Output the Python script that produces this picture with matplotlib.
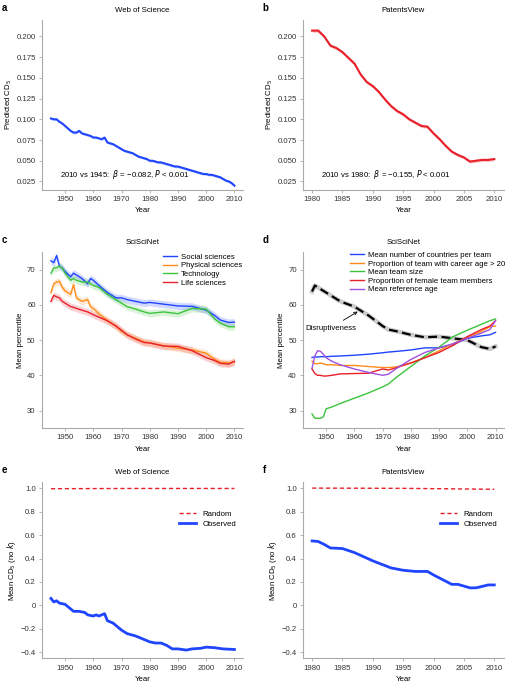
import numpy as np
import matplotlib
matplotlib.use('Agg')
import matplotlib.pyplot as plt

plt.rcParams['font.family'] = ['Liberation Sans', 'DejaVu Sans']
plt.rcParams['font.size'] = 6

# panel a: Web of Science predicted CD5, 1945-2010
a_years = np.arange(1945, 2011)
a_vals = [0.101, 0.100, 0.100, 0.097, 0.095, 0.092, 0.089, 0.086, 0.084, 0.084,
          0.086, 0.083, 0.082, 0.081, 0.080, 0.078, 0.078, 0.077, 0.076, 0.078,
          0.072, 0.071, 0.070, 0.068, 0.066, 0.064, 0.062, 0.061, 0.060, 0.059,
          0.057, 0.055, 0.054, 0.053, 0.052, 0.050, 0.050, 0.049, 0.048, 0.048,
          0.047, 0.046, 0.045, 0.044, 0.043, 0.043, 0.042, 0.041, 0.040, 0.039,
          0.038, 0.037, 0.036, 0.035, 0.034, 0.034, 0.033, 0.033, 0.032, 0.031,
          0.030, 0.028, 0.026, 0.025, 0.023, 0.020]

# panel b: PatentsView predicted CD5, 1980-2010
b_years = np.arange(1980, 2011)
b_vals = [0.207, 0.207, 0.200, 0.189, 0.186, 0.181, 0.174, 0.167, 0.154, 0.145,
          0.140, 0.133, 0.124, 0.116, 0.110, 0.106, 0.100, 0.096, 0.092, 0.091,
          0.083, 0.076, 0.068, 0.061, 0.057, 0.054, 0.049, 0.050, 0.051, 0.051, 0.052]

# panel c: SciSciNet by field
c_years = [1945, 1946, 1947, 1948, 1949, 1950, 1952, 1953, 1954, 1956, 1958, 1959, 1960,
           1962, 1965, 1968, 1970, 1972, 1975, 1978, 1980, 1985, 1990, 1995, 2000,
           2003, 2005, 2008, 2010]
c_social = [72.5, 72, 74, 71, 70.5, 69.5, 68, 69, 68.5, 67.5, 66, 67.5, 67, 65.5, 63.5,
            62, 62, 61.5, 61, 60.5, 60.7, 60.2, 59.7, 59.6, 58.5, 57, 55.7, 55, 55.1]
c_physical = [63.5, 66, 66.5, 66.7, 65, 64, 63, 65.8, 62, 61, 61.5, 59.5, 59, 57.5, 55.5,
              54, 52.5, 51.5, 50.5, 49.5, 49.2, 48.4, 47.7, 47.2, 46.3, 44.5, 43.7, 43.5, 43.8]
c_tech = [69, 70.5, 70.5, 71, 70.5, 69, 67, 67.5, 67, 66.5, 66.5, 66, 65.5, 65, 63,
          61.5, 60.5, 59.5, 58.8, 58, 57.6, 58, 57.5, 59, 58.8, 56, 54.8, 53.8, 53.8]
c_life = [61, 62.7, 62.3, 62, 61, 60.5, 59.5, 59.3, 59, 58.5, 58, 57.6, 57.2, 56.5, 55.5,
          54, 52.8, 51.5, 50.3, 49.3, 49.2, 48.3, 48.2, 47, 45, 44.2, 43.4, 43.2, 44]

# panel d: SciSciNet team characteristics
d_years = [1945, 1946, 1947, 1948, 1949, 1950, 1952, 1955, 1960, 1965, 1970, 1972, 1975,
           1980, 1985, 1990, 1995, 2000, 2005, 2008, 2010]
d_disrupt = [63.8, 65.5, 65, 64.5, 64, 63.5, 62.5, 61, 59.5, 57, 54, 53, 52.5, 51.5,
             50.8, 51, 50.5, 50, 48, 47.5, 48.2]
d_countries = [45.1, 45.2, 45.2, 45.3, 45.3, 45.3, 45.4, 45.5, 45.7, 46, 46.4, 46.6,
               46.8, 47.2, 47.8, 47.8, 48.8, 50.5, 51.2, 51.5, 52.2]
d_career = [44, 43.3, 43.3, 43.5, 43.3, 43, 43, 42.8, 42.8, 42.5, 42.2, 42.2, 42.4,
            43.5, 45, 47, 49, 50.8, 52.5, 53.8, 54]
d_teamsize = [29, 27.8, 27.8, 27.8, 28.2, 30.5, 31, 32, 33.5, 35, 36.7, 37.5, 39.5,
              42.5, 45.5, 48, 51, 52.8, 54.5, 55.5, 56]
d_female = [41.8, 40.5, 40, 40, 39.8, 39.8, 40, 40.4, 40.5, 40.6, 41.8, 41.5, 42.2,
            43.5, 45, 46.5, 48.5, 51, 53, 54, 55.5]
d_refage = [42, 45.5, 47, 46.8, 46, 45, 44, 43, 41.8, 40.8, 40, 40.3, 42, 44.5, 46.5,
            47.8, 49, 50.5, 52, 53, 55.5]

# panel e: Web of Science mean CD5 (no k)
e_years = [1945, 1946, 1947, 1948, 1950, 1952, 1953, 1955, 1957, 1958, 1960, 1961, 1962,
           1964, 1965, 1967, 1970, 1972, 1975, 1978, 1980, 1982, 1984, 1986, 1988, 1990,
           1993, 1995, 1998, 2000, 2003, 2006, 2010]
e_obs = [0.06, 0.03, 0.04, 0.02, 0.01, -0.03, -0.05, -0.05, -0.06, -0.08, -0.09, -0.08,
         -0.09, -0.07, -0.13, -0.15, -0.21, -0.24, -0.26, -0.29, -0.31, -0.32, -0.32,
         -0.34, -0.37, -0.37, -0.38, -0.37, -0.365, -0.355, -0.36, -0.37, -0.375]
e_rand_years = [1945, 1975, 2010]
e_rand = [0.995, 0.997, 0.997]

# panel f: PatentsView mean CD5 (no k)
f_years = [1980, 1981, 1982, 1983, 1985, 1987, 1990, 1993, 1995, 1997, 1999, 2000,
           2003, 2004, 2006, 2007, 2009, 2010]
f_obs = [0.55, 0.545, 0.52, 0.49, 0.485, 0.45, 0.38, 0.32, 0.30, 0.29, 0.29, 0.26,
         0.18, 0.18, 0.15, 0.15, 0.175, 0.175]
f_rand_years = [1980, 1995, 2010]
f_rand = [1.0, 0.998, 0.99]

BLUE = '#1f45ff'
RED = '#e8202a'
ORANGE = '#ff8c1a'
GREEN = '#3cc43c'
PURPLE = '#a050e0'
GREY = '#aaaaaa'
FS = 5.6

fig = plt.figure(figsize=(5.05, 6.85), dpi=100)
L1, L2, W = 0.083, 0.600, 0.398
ax_a = fig.add_axes([L1, 0.723, W, 0.248])
ax_b = fig.add_axes([L2, 0.723, W, 0.248])
ax_c = fig.add_axes([L1, 0.375, W, 0.257])
ax_d = fig.add_axes([L2, 0.375, W, 0.257])
ax_e = fig.add_axes([L1, 0.039, W, 0.257])
ax_f = fig.add_axes([L2, 0.039, W, 0.257])


def style(ax, title, letter):
    for s in ['top', 'right']:
        ax.spines[s].set_visible(False)
    for s in ['left', 'bottom']:
        ax.spines[s].set_color(GREY)
        ax.spines[s].set_linewidth(0.8)
    ax.tick_params(colors='#333333', labelsize=FS, length=2.5, width=0.6, pad=2, direction='out')
    ax.tick_params(axis='both', color=GREY)
    ax.set_xlabel('Year', fontsize=FS, labelpad=3)
    ax.yaxis.label.set_fontsize(FS)
    ax.yaxis.labelpad = 2
    ax.set_title(title, fontsize=FS, pad=6)
    ax.text(-0.2, 1.04, letter, transform=ax.transAxes, fontsize=7, fontweight='bold', va='bottom')


# a
ax_a.fill_between(a_years, np.array(a_vals) - 0.0015, np.array(a_vals) + 0.0015, color=BLUE, alpha=0.25, lw=0)
ax_a.plot(a_years, a_vals, color=BLUE, lw=1.5)
ax_a.set_xlim(1941.8, 2013)
ax_a.set_ylim(0.015, 0.22)
ax_a.set_yticks([0.025, 0.05, 0.075, 0.1, 0.125, 0.15, 0.175, 0.2])
ax_a.set_yticklabels(['0.025', '0.050', '0.075', '0.100', '0.125', '0.150', '0.175', '0.200'])
ax_a.set_xticks(range(1950, 2011, 10))
ax_a.set_ylabel('Predicted CD$_5$')
ax_a.text(0.09, 0.075, '2010 vs 1945:  $\\beta$ = \u22120.082, $P$ < 0.001', transform=ax_a.transAxes, fontsize=FS)
style(ax_a, 'Web of Science', 'a')

# b
ax_b.fill_between(b_years, np.array(b_vals) - 0.002, np.array(b_vals) + 0.002, color=RED, alpha=0.25, lw=0)
ax_b.plot(b_years, b_vals, color=RED, lw=1.5)
ax_b.set_xlim(1978.5, 2011.6)
ax_b.set_ylim(0.015, 0.22)
ax_b.set_yticks([0.025, 0.05, 0.075, 0.1, 0.125, 0.15, 0.175, 0.2])
ax_b.set_yticklabels(['0.025', '0.050', '0.075', '0.100', '0.125', '0.150', '0.175', '0.200'])
ax_b.set_xticks(range(1980, 2011, 5))
ax_b.set_ylabel('Predicted CD$_5$')
ax_b.text(0.09, 0.075, '2010 vs 1980:  $\\beta$ = \u22120.155, $P$ < 0.001', transform=ax_b.transAxes, fontsize=FS)
style(ax_b, 'PatentsView', 'b')

# c
for vals, col, lab in [(c_social, BLUE, 'Social sciences'), (c_physical, ORANGE, 'Physical sciences'),
                       (c_tech, GREEN, 'Technology'), (c_life, RED, 'Life sciences')]:
    v = np.array(vals)
    ax_c.fill_between(c_years, v - 1, v + 1, color=col, alpha=0.2, lw=0)
    ax_c.plot(c_years, v, color=col, lw=1.0, label=lab)
ax_c.set_xlim(1941.8, 2013)
ax_c.set_ylim(25, 75)
ax_c.set_yticks([30, 40, 50, 60, 70])
ax_c.set_xticks(range(1950, 2011, 10))
ax_c.set_ylabel('Mean percentile')
ax_c.legend(loc='upper right', bbox_to_anchor=(1.02, 1.02), frameon=False, fontsize=FS,
            handlelength=1.8, labelspacing=0.15, borderaxespad=0.2, handletextpad=0.5)
style(ax_c, 'SciSciNet', 'c')

# d
ax_d.plot(d_years, d_disrupt, color='#cccccc', lw=3.2)
ax_d.plot(d_years, d_disrupt, color='black', lw=1.6, ls=(0, (4, 2)))
for vals, col, lab in [(d_countries, BLUE, 'Mean number of countries per team'),
                       (d_career, ORANGE, 'Proportion of team with career age > 20'),
                       (d_teamsize, GREEN, 'Mean team size'),
                       (d_female, RED, 'Proportion of female team members'),
                       (d_refage, PURPLE, 'Mean reference age')]:
    ax_d.plot(d_years, vals, color=col, lw=1.0, label=lab)
ax_d.annotate('Disruptiveness', xy=(1962, 58.5), xytext=(1942.5, 53), fontsize=FS,
              arrowprops=dict(arrowstyle='->', lw=0.6, color='black'))
ax_d.set_xlim(1941.8, 2013)
ax_d.set_ylim(25, 75)
ax_d.set_yticks([30, 40, 50, 60, 70])
ax_d.set_xticks(range(1950, 2011, 10))
ax_d.set_ylabel('Mean percentile')
ax_d.legend(loc='upper left', bbox_to_anchor=(0.21, 1.03), frameon=False, fontsize=FS,
            handlelength=1.8, labelspacing=0.15, borderaxespad=0.2, handletextpad=0.5)
style(ax_d, 'SciSciNet', 'd')

# e
ax_e.plot(e_rand_years, e_rand, color=RED, lw=1.0, ls=(0, (3, 2)), label='Random')
ax_e.plot(e_years, e_obs, color=BLUE, lw=2.0, label='Observed')
ax_e.set_xlim(1941.8, 2013)
ax_e.set_ylim(-0.45, 1.05)
ax_e.set_yticks([-0.4, -0.2, 0, 0.2, 0.4, 0.6, 0.8, 1.0])
ax_e.set_yticklabels(['\u22120.4', '\u22120.2', '0', '0.2', '0.4', '0.6', '0.8', '1.0'])
ax_e.set_xticks(range(1950, 2011, 10))
ax_e.set_ylabel('Mean CD$_5$ (no $k$)')
ax_e.legend(loc='upper right', bbox_to_anchor=(1.0, 0.88), frameon=False, fontsize=FS,
            handlelength=2.2, labelspacing=0.3)
style(ax_e, 'Web of Science', 'e')

# f
ax_f.plot(f_rand_years, f_rand, color=RED, lw=1.0, ls=(0, (3, 2)), label='Random')
ax_f.plot(f_years, f_obs, color=BLUE, lw=2.0, label='Observed')
ax_f.set_xlim(1978.5, 2011.6)
ax_f.set_ylim(-0.45, 1.05)
ax_f.set_yticks([-0.4, -0.2, 0, 0.2, 0.4, 0.6, 0.8, 1.0])
ax_f.set_yticklabels(['\u22120.4', '\u22120.2', '0', '0.2', '0.4', '0.6', '0.8', '1.0'])
ax_f.set_xticks(range(1980, 2011, 5))
ax_f.set_ylabel('Mean CD$_5$ (no $k$)')
ax_f.legend(loc='upper right', bbox_to_anchor=(1.0, 0.88), frameon=False, fontsize=FS,
            handlelength=2.2, labelspacing=0.3)
style(ax_f, 'PatentsView', 'f')

fig.savefig('out.png', dpi=100)
